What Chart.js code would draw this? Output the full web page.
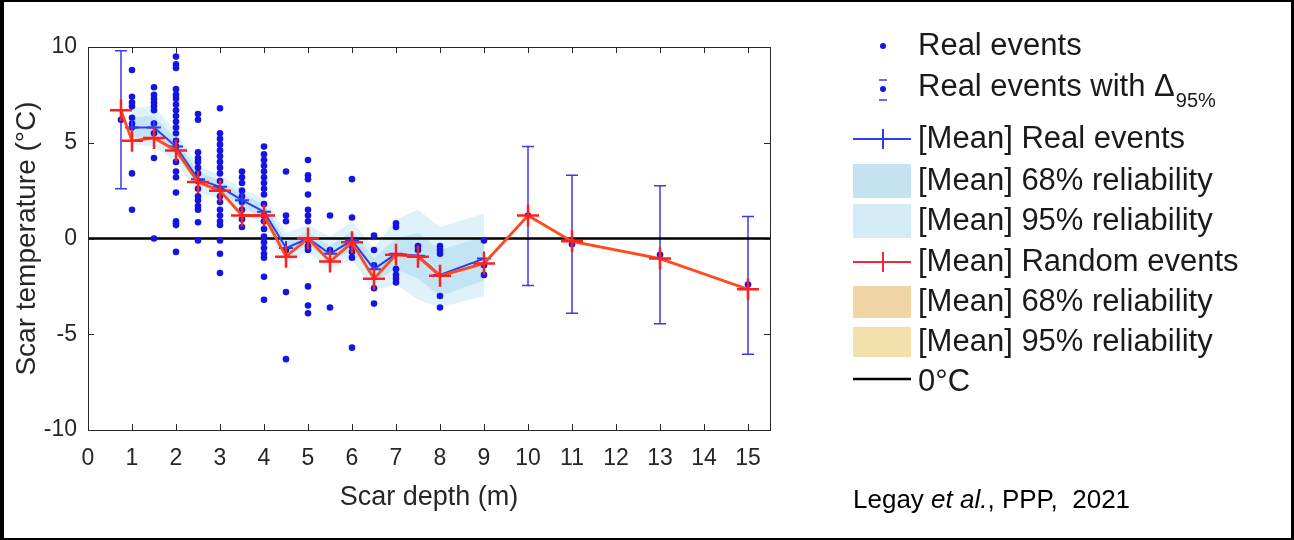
<!DOCTYPE html>
<html>
<head>
<meta charset="utf-8">
<script src="https://cdn.jsdelivr.net/npm/chart.js@4.4.1/dist/chart.umd.min.js"></script>
<style>
  html, body { margin: 0; padding: 0; background: #fff; }
  #wrap { position: relative; width: 1294px; height: 540px; }
</style>
</head>
<body>
<div id="wrap"><canvas id="scarChart" width="1294" height="540"></canvas></div>
<script>
// Scar temperature vs scar depth (real vs random events)

// axis limits and tick labels
const depthRange = [0, 15.5];
const tempRange = [-10, 10];
const depthTicks = [0, 1, 2, 3, 4, 5, 6, 7, 8, 9, 10, 11, 12, 13, 14, 15];
const tempTicks = [-10, -5, 0, 5, 10];

// individual real events, one column per depth
const realDepths = [1, 1.5, 2, 2.5, 3, 3.5, 4, 4.5, 5, 5.5, 6, 6.5, 7, 7.5, 8, 9];
const realTemps = [
  [8.8, 7.4, 7.1, 6.9, 6.3, 6.0, 5.8, 3.4, 1.5],
  [7.9, 7.5, 7.3, 7.1, 6.9, 6.7, 6.0, 5.5, 4.2, 0.0],
  [9.5, 9.1, 8.9, 7.8, 7.5, 7.3, 7.0, 6.7, 6.4, 6.1, 5.8, 5.5, 5.1, 4.8, 4.0, 3.5, 3.2, 2.4, 0.9, 0.8, 0.7, -0.7],
  [6.5, 6.2, 4.5, 4.2, 4.0, 3.7, 3.4, 3.0, 2.6, 2.2, 2.0, 1.7, 1.5, 0.85, -0.1],
  [6.8, 5.5, 5.2, 4.9, 4.6, 4.3, 4.0, 3.7, 3.4, 3.0, 2.6, 2.2, 1.9, 1.5, 1.2, 0.9, 0.7, -0.1, -0.8, -1.8],
  [3.5, 3.2, 2.9, 2.5, 2.2, 1.9, 1.5, 1.0, 0.6],
  [4.8, 4.4, 4.1, 3.8, 3.5, 3.2, 2.9, 2.6, 2.3, 1.8, 1.2, 0.9, 0.5, 0.1, -0.2, -0.5, -0.8, -1.0, -2.0, -3.2],
  [3.5, 1.2, 0.9, -0.6, -2.8, -6.3],
  [4.1, 3.3, 3.1, 2.3, 1.5, 1.2, 0.9, -0.1, -0.4, -0.6, -2.5, -3.5, -3.9],
  [1.2, -0.6, -3.6],
  [3.1, 1.1, -0.1, -0.4, -0.7, -1.0, -5.7],
  [0.15, -0.6, -1.4, -2.6, -3.4],
  [0.8, 0.6, -1.6, -1.9, -2.1, -2.3],
  [-0.4, -0.6],
  [-0.4, -0.6, -0.8, -3.0, -3.6],
  [-0.1, -1.4, -1.9]
];

// mean of real events and its reliability bands
const meanReal = [5.8, 5.8, 4.8, 3.1, 2.7, 2.0, 1.4, -0.5, 0.0, -0.8, -0.1, -1.6, -0.8, -0.9, -1.9, -1.05];
const real68High = [6.3, 6.4, 5.2, 3.5, 3.0, 2.3, 1.8, -0.1, 0.35, -0.4, 0.4, -1.0, 0.0, 0.3, -0.6, 0.1];
const real68Low = [5.3, 5.2, 4.4, 2.8, 2.4, 1.7, 1.0, -0.9, -0.35, -1.2, -0.6, -2.2, -1.6, -2.1, -3.0, -2.2];
const real95High = [6.8, 6.9, 5.6, 3.8, 3.3, 2.6, 2.1, 0.3, 0.7, 0.1, 0.9, -0.5, 1.0, 1.5, 0.6, 1.3];
const real95Low = [4.9, 4.8, 4.0, 2.4, 2.1, 1.4, 0.7, -1.3, -0.7, -1.6, -1.1, -2.7, -2.4, -3.2, -3.6, -3.0];

// real events with 95% interval
const errDepths = [0.75, 10, 11, 13, 15];
const errCenters = [6.2, 1.2, -0.3, -0.85, -2.4];
const errLow = [2.6, -2.45, -3.9, -4.45, -6.05];
const errHigh = [9.8, 4.8, 3.3, 2.75, 1.15];

// mean of random events and its (very narrow) reliability bands
const randDepths = [0.75, 1, 1.5, 2, 2.5, 3, 3.5, 4, 4.5, 5, 5.5, 6, 6.5, 7, 7.5, 8, 9, 10, 11, 13, 15];
const meanRandom = [6.7, 5.1, 5.25, 4.6, 2.95, 2.5, 1.2, 1.2, -0.95, 0.0, -1.2, -0.2, -2.1, -0.85, -0.95, -1.95, -1.3, 1.2, -0.15, -1.05, -2.65];
const rand68High = [6.75, 5.15, 5.3, 4.65, 3.0, 2.55, 1.25, 1.25, -0.9, 0.05, -1.15, -0.15, -2.05, -0.8, -0.9, -1.9, -1.25, 1.25, -0.1, -1.0, -2.6];
const rand68Low = [6.65, 5.05, 5.2, 4.55, 2.9, 2.45, 1.15, 1.15, -1.0, -0.05, -1.25, -0.25, -2.15, -0.9, -1.0, -2.0, -1.35, 1.15, -0.2, -1.1, -2.7];
const rand95High = [6.8, 5.2, 5.35, 4.7, 3.05, 2.6, 1.3, 1.3, -0.85, 0.1, -1.1, -0.1, -2.0, -0.75, -0.85, -1.85, -1.2, 1.3, -0.05, -0.95, -2.55];
const rand95Low = [6.6, 5.0, 5.15, 4.5, 2.85, 2.4, 1.1, 1.1, -1.05, -0.1, -1.3, -0.3, -2.2, -0.95, -1.05, -2.05, -1.4, 1.1, -0.25, -1.15, -2.75];

const zeroLevel = 0;

const legendLabels = [
  'Real events',
  'Real events with \u0394',
  '[Mean] Real events',
  '[Mean] 68% reliability',
  '[Mean] 95% reliability',
  '[Mean] Random events',
  '[Mean] 68% reliability',
  '[Mean] 95% reliability',
  '0\u00b0C'
];

(function() {
  const FONT = '"Liberation Sans", Arial, sans-serif';
  const colors = {
    dot: '#1414e6',
    blueLine: '#2a3cf0',
    errBar: '#3a3af0',
    redLine: '#ff4a1f',
    redCross: '#ff1f1f',
    band95: 'rgba(140, 210, 238, 0.28)',
    band68: 'rgba(120, 195, 232, 0.28)',
    orange95: 'rgba(240, 205, 130, 0.15)',
    orange68: 'rgba(230, 185, 110, 0.15)',
    text: '#1a1a1a',
    axis: '#262626'
  };

  const pts = (xs, ys) => xs.map((x, i) => ({ x: x, y: ys[i] }));

  const realPoints = [];
  realDepths.forEach((d, i) => {
    realTemps[i].forEach(t => realPoints.push({ x: d, y: t }));
  });

  const band = (hi, lo, xs, color, order) => ([
    { type: 'line', data: pts(xs, hi), borderWidth: 0, pointRadius: 0, fill: '+1', backgroundColor: color, order: order },
    { type: 'line', data: pts(xs, lo), borderWidth: 0, pointRadius: 0, fill: false, order: order }
  ]);

  // inward ticks and box like the original figure
  const boxPlugin = {
    id: 'boxPlugin',
    afterDatasetsDraw(chart) {
      const { ctx, chartArea: a, scales } = chart;
      ctx.save();
      ctx.strokeStyle = colors.axis;
      ctx.lineWidth = 1;
      ctx.strokeRect(a.left + 0.5, a.top + 0.5, a.right - a.left, a.bottom - a.top);
      ctx.beginPath();
      scales.x.ticks.forEach(t => {
        const px = Math.round(scales.x.getPixelForValue(t.value)) + 0.5;
        ctx.moveTo(px, a.bottom); ctx.lineTo(px, a.bottom - 6);
        ctx.moveTo(px, a.top); ctx.lineTo(px, a.top + 6);
      });
      scales.y.ticks.forEach(t => {
        const py = Math.round(scales.y.getPixelForValue(t.value)) + 0.5;
        ctx.moveTo(a.left, py); ctx.lineTo(a.left + 6, py);
        ctx.moveTo(a.right, py); ctx.lineTo(a.right - 6, py);
      });
      ctx.stroke();
      ctx.restore();
    }
  };

  // vertical 95% intervals of the real events
  const errorBarPlugin = {
    id: 'errorBarPlugin',
    beforeDatasetsDraw(chart) {
      const { ctx, scales } = chart;
      ctx.save();
      ctx.strokeStyle = colors.errBar;
      ctx.lineWidth = 1.5;
      ctx.beginPath();
      errDepths.forEach((d, i) => {
        const px = scales.x.getPixelForValue(d);
        const y1 = scales.y.getPixelForValue(errHigh[i]);
        const y2 = scales.y.getPixelForValue(errLow[i]);
        ctx.moveTo(px, y1); ctx.lineTo(px, y2);
        ctx.moveTo(px - 6, y1); ctx.lineTo(px + 6, y1);
        ctx.moveTo(px - 6, y2); ctx.lineTo(px + 6, y2);
      });
      ctx.stroke();
      ctx.restore();
    }
  };

  // legend, citation and frame
  const legendPlugin = {
    id: 'legendPlugin',
    afterDraw(chart) {
      const ctx = chart.ctx;
      const rows = [46, 87, 139, 181, 221, 262, 302, 342, 382];
      const iconL = 853, iconR = 911, iconC = 883, textX = 918;
      ctx.save();
      ctx.font = '31px ' + FONT;
      ctx.fillStyle = colors.text;
      ctx.textBaseline = 'middle';
      ctx.textAlign = 'left';
      legendLabels.forEach((lab, i) => {
        ctx.fillText(lab, textX, rows[i]);
      });
      // subscript on the Delta row
      const w = ctx.measureText(legendLabels[1]).width;
      ctx.font = '20px ' + FONT;
      ctx.fillText('95%', textX + w + 1, rows[1] + 14);

      const cross = (x, y, s, color, lw) => {
        ctx.strokeStyle = color; ctx.lineWidth = lw;
        ctx.beginPath();
        ctx.moveTo(x - s, y); ctx.lineTo(x + s, y);
        ctx.moveTo(x, y - s); ctx.lineTo(x, y + s);
        ctx.stroke();
      };
      const hline = (y, color, lw) => {
        ctx.strokeStyle = color; ctx.lineWidth = lw;
        ctx.beginPath(); ctx.moveTo(iconL, y); ctx.lineTo(iconR, y); ctx.stroke();
      };

      ctx.fillStyle = colors.dot;
      ctx.beginPath(); ctx.arc(iconC, rows[0], 3, 0, Math.PI * 2); ctx.fill();
      ctx.beginPath(); ctx.arc(iconC, rows[1] + 2, 3, 0, Math.PI * 2); ctx.fill();
      ctx.strokeStyle = colors.errBar; ctx.lineWidth = 1.5;
      ctx.beginPath();
      ctx.moveTo(iconC - 4, rows[1] - 7); ctx.lineTo(iconC + 4, rows[1] - 7);
      ctx.moveTo(iconC - 4, rows[1] + 13); ctx.lineTo(iconC + 4, rows[1] + 13);
      ctx.stroke();

      hline(rows[2], colors.blueLine, 2);
      cross(iconC, rows[2], 10, colors.blueLine, 2);
      ctx.fillStyle = 'rgb(196, 226, 242)';
      ctx.fillRect(iconL, rows[3] - 17, iconR - iconL, 34);
      ctx.fillStyle = 'rgb(212, 236, 247)';
      ctx.fillRect(iconL, rows[4] - 17, iconR - iconL, 34);
      hline(rows[5], '#f0283a', 2);
      cross(iconC, rows[5], 10, '#f0283a', 2);
      ctx.fillStyle = 'rgb(241, 214, 165)';
      ctx.fillRect(iconL, rows[6] - 16, iconR - iconL, 32);
      ctx.fillStyle = 'rgb(243, 224, 172)';
      ctx.fillRect(iconL, rows[7] - 15, iconR - iconL, 30);
      hline(rows[8] - 3, '#000', 2.5);

      // citation
      ctx.fillStyle = '#000';
      ctx.textBaseline = 'alphabetic';
      let cx = 853;
      const cy = 508;
      ctx.font = '26px ' + FONT;
      ctx.fillText('Legay ', cx, cy); cx += ctx.measureText('Legay ').width;
      ctx.font = 'italic 26px ' + FONT;
      ctx.fillText('et al.', cx, cy); cx += ctx.measureText('et al.').width;
      ctx.font = '26px ' + FONT;
      ctx.fillText(', PPP,  2021', cx, cy);

      // outer frame of the figure
      ctx.fillStyle = '#000';
      ctx.fillRect(0, 0, 4, 540);
      ctx.fillRect(0, 0, 1294, 2);
      ctx.fillRect(1291, 0, 3, 540);
      ctx.fillRect(0, 538, 1294, 2);
      ctx.restore();
    }
  };

  const ctx = document.getElementById('scarChart').getContext('2d');

  new Chart(ctx, {
    type: 'scatter',
    data: {
      datasets: [
        {
          type: 'line', label: '[Mean] Random events', data: pts(randDepths, meanRandom),
          borderColor: colors.redLine, borderWidth: 2.8, tension: 0, fill: false,
          pointStyle: 'cross', pointRadius: 11, pointBorderWidth: 2.5,
          pointBorderColor: colors.redCross, pointBackgroundColor: colors.redCross, order: 0
        },
        {
          type: 'line', label: '[Mean] Real events', data: pts(realDepths, meanReal),
          borderColor: colors.blueLine, borderWidth: 2, tension: 0, fill: false,
          pointStyle: 'cross', pointRadius: 7, pointBorderWidth: 2,
          pointBorderColor: colors.blueLine, order: 1
        },
        {
          label: 'Real events with \u0394 95%', data: pts(errDepths, errCenters),
          pointRadius: 3.3, pointBackgroundColor: colors.dot, pointBorderWidth: 0, order: 2
        },
        {
          label: 'Real events', data: realPoints,
          pointRadius: 3.3, pointBackgroundColor: colors.dot, pointBorderWidth: 0, order: 3
        },
        {
          type: 'line', label: '0\u00b0C',
          data: [{ x: depthRange[0], y: zeroLevel }, { x: depthRange[1], y: zeroLevel }],
          borderColor: '#000', borderWidth: 2.5, pointRadius: 0, fill: false, order: 4
        },
        ...band(rand68High, rand68Low, randDepths, colors.orange68, 5),
        ...band(rand95High, rand95Low, randDepths, colors.orange95, 6),
        ...band(real68High, real68Low, realDepths, colors.band68, 7),
        ...band(real95High, real95Low, realDepths, colors.band95, 8)
      ]
    },
    options: {
      responsive: false,
      devicePixelRatio: 1,
      animation: false,
      layout: { padding: { top: 47, right: 524, left: 0, bottom: 0 } },
      plugins: {
        legend: { display: false },
        tooltip: { enabled: false },
        filler: { propagate: false }
      },
      scales: {
        x: {
          type: 'linear',
          min: depthRange[0],
          max: depthRange[1],
          afterBuildTicks: (s) => { s.ticks = depthTicks.map(v => ({ value: v })); },
          afterFit: (s) => { s.height = 110; },
          grid: { display: false, drawTicks: false },
          border: { display: false },
          ticks: {
            color: colors.axis, padding: 15, maxRotation: 0, autoSkip: false,
            font: { family: FONT, size: 23 }
          },
          title: {
            display: true, text: 'Scar depth (m)', color: colors.axis,
            font: { family: FONT, size: 27 }, padding: { top: 0, bottom: 26 }
          }
        },
        y: {
          type: 'linear',
          min: tempRange[0],
          max: tempRange[1],
          afterBuildTicks: (s) => { s.ticks = tempTicks.map(v => ({ value: v })); },
          afterFit: (s) => { s.width = 88; },
          grid: { display: false, drawTicks: false },
          border: { display: false },
          ticks: {
            color: colors.axis, padding: 11,
            font: { family: FONT, size: 23 }
          },
          title: {
            display: true, text: 'Scar temperature (\u00b0C)', color: colors.axis,
            font: { family: FONT, size: 28 }, padding: { top: 10, bottom: 0 }
          }
        }
      }
    },
    plugins: [errorBarPlugin, boxPlugin, legendPlugin]
  });
})();
</script>
</body>
</html>
